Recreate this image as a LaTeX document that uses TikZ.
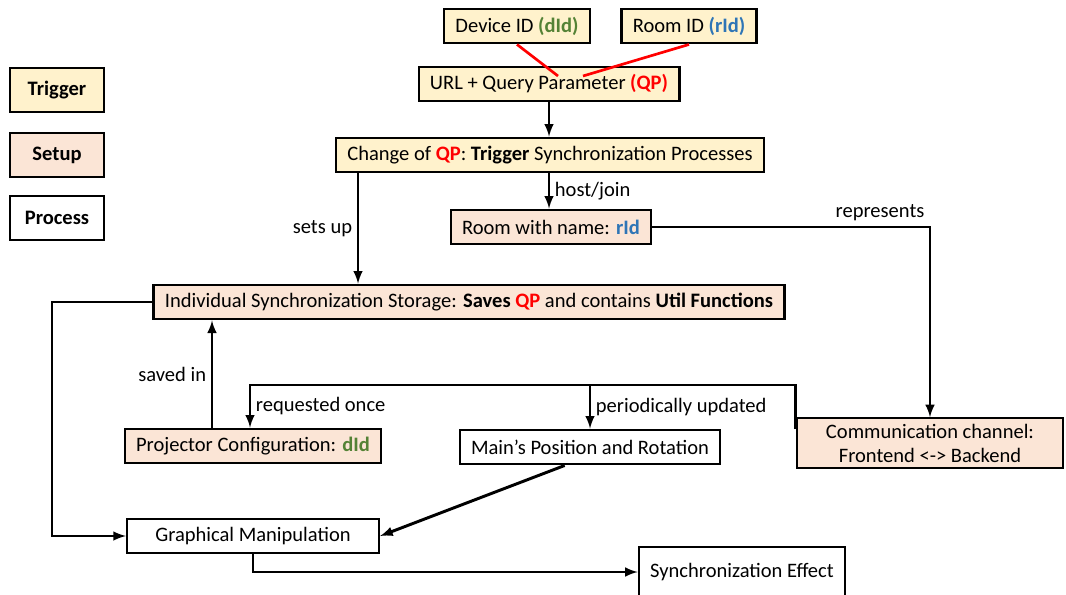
\documentclass[tikz,border=0pt]{standalone}
\usepackage{fontspec}
\setmainfont{Carlito}
\usetikzlibrary{positioning}

\definecolor{trigfill}{HTML}{FFF2CC}
\definecolor{setfill}{HTML}{FBE5D6}
\definecolor{qpred}{HTML}{FF0000}
\definecolor{idgreen}{HTML}{548235}
\definecolor{idblue}{HTML}{2E75B6}

\newcommand{\qp}{\textcolor{qpred}{\textbf{QP}}}
\newcommand{\did}{\textcolor{idgreen}{\textbf{dId}}}
\newcommand{\rid}{\textcolor{idblue}{\textbf{rId}}}

\tikzset{
  box/.style={draw, line width=1.7pt, minimum height=26pt, inner xsep=8.5pt,
    font=\fontsize{15.4}{18}\selectfont},
  trigbox/.style={box, fill=trigfill},
  setbox/.style={box, fill=setfill},
  procbox/.style={box, fill=white},
  legend/.style={minimum width=70pt, minimum height=33pt, font=\fontsize{15.4}{18}\selectfont\bfseries},
  flow/.style={->, line width=2.2pt},
  idline/.style={qpred, line width=2pt},
  lbl/.style={font=\fontsize{15.4}{18}\selectfont}
}

\begin{document}
\begin{tikzpicture}[>=latex, x=0.75pt, y=-0.75pt]
  \useasboundingbox (0,0) rectangle (1066,594);

  % legend
  \node[trigbox, legend] (ltrig) at (57,90)  {Trigger};
  \node[setbox,  legend] (lset)  at (57,155) {Setup};
  \node[procbox, legend] (lproc) at (57,218) {Process};

  % query parameters
  \node[trigbox] (dev)  at (517,26) {Device ID \textcolor{idgreen}{\textbf{(dId)}}};
  \node[trigbox] (room) at (689,26) {Room ID \textcolor{idblue}{\textbf{(rId)}}};
  \node[trigbox] (url)  at (549,84) {URL + Query Parameter \textcolor{qpred}{\textbf{(QP)}}};
  \coordinate (devin)  at (558,76);
  \coordinate (roomin) at (583,76);
  \draw[idline] (dev.south)  -- (devin);
  \draw[idline] (room.south) -- (roomin);

  % trigger
  \node[trigbox] (change) at (550,155) {Change of \qp: \textbf{Trigger} Synchronization Processes};
  \draw[flow] (url) -- (url.south |- change.north);

  % setup
  \node[setbox] (chroom) at (551,227) {Room with name: \rid};
  \draw[flow] (url.south |- change.south) -- node[lbl, right] {host/join} (url.south |- chroom.north);

  \node[setbox] (store) at (469,302) {Individual Synchronization Storage: \textbf{Saves} \qp{} and contains \textbf{Util Functions}};
  \coordinate (setx) at (358,0);
  \draw[flow] (setx |- change.south) -- node[lbl, left] {sets up} (setx |- store.north);

  \node[setbox, minimum width=200pt, minimum height=37pt, align=center] (comm) at (930,443)
    {Communication channel:\\Frontend <-> Backend};
  \draw[flow] (chroom.east) -| node[lbl, above, pos=0.41] {represents} (comm.north);

  \node[setbox] (proj) at (253,446) {Projector Configuration: \did};
  \coordinate (savex) at (212,0);
  \draw[flow] (savex |- proj.north) -- node[lbl, left] {saved in} (savex |- store.south);

  \node[procbox] (main) at (590,447) {Main’s Position and Rotation};

  % bus from channel
  \coordinate (bus)   at (0,385);
  \coordinate (reqx)  at (250,0);
  \draw[line width=2.2pt] ([yshift=-9pt]comm.north west) -- (comm.north west |- bus) -- (main.north |- bus);
  \draw[flow] (main.north |- bus) -| node[lbl, right, pos=0.75] {requested once} (reqx |- proj.north);
  \draw[flow] (main.north |- bus) -- node[lbl, right] {periodically updated} (main.north);

  % process
  \node[procbox, minimum width=189pt] (graph) at (253,536) {Graphical Manipulation};
  \coordinate (leftx) at (52,0);
  \draw[flow] (store.west) -| (leftx |- graph.west) -- (graph.west);
  \draw[flow] ([xshift=-19pt]main.south) -- (graph.east);

  \node[procbox, minimum height=37pt] (effect) at (742,572) {Synchronization Effect};
  \draw[flow] (graph.south) |- (effect.west);
\end{tikzpicture}
\end{document}
